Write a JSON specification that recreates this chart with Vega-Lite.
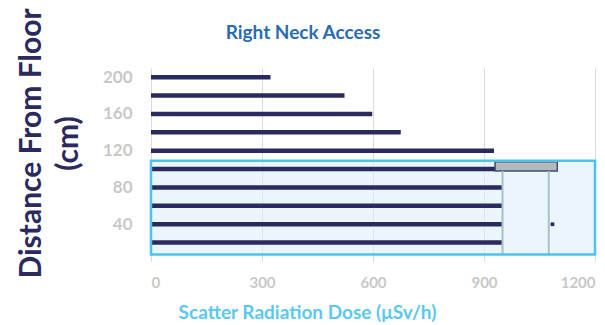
{
  "$schema": "https://vega.github.io/schema/vega-lite/v6.json",
  "width": 444,
  "height": 193,
  "autosize": {"type": "none"},
  "padding": {"left": 151, "top": 68, "right": 10, "bottom": 64},
  "background": "white",
  "config": {"view": {"stroke": null}},
  "title": {"text": "Right Neck Access", "font": "Lato", "fontSize": 19, "fontWeight": "bold", "color": "#2a6cb0", "anchor": "middle", "frame": "group", "dx": -70, "offset": -35},
  "datasets": {
    "bars": [
      {"distance": 20, "start": 0, "dose": 950},
      {"distance": 40, "start": 0, "dose": 950},
      {"distance": 60, "start": 0, "dose": 950},
      {"distance": 80, "start": 0, "dose": 950},
      {"distance": 100, "start": 0, "dose": 930},
      {"distance": 120, "start": 0, "dose": 927},
      {"distance": 140, "start": 0, "dose": 675},
      {"distance": 160, "start": 0, "dose": 598},
      {"distance": 180, "start": 0, "dose": 523},
      {"distance": 200, "start": 0, "dose": 323}
    ],
    "box": [{"x0": 0, "x1": 1200, "y0": 7, "y1": 109}],
    "greybox": [{"x0": 930, "x1": 1098, "y0": 98, "y1": 108}],
    "lines": [{"dose": 950, "y0": 7, "y1": 98}, {"dose": 1075, "y0": 7, "y1": 98}],
    "dot": [{"dose": 1085, "distance": 40}]
  },
  "layer": [
    {
      "data": {"name": "box"},
      "mark": {"type": "rect", "fill": "#dcf0fa", "fillOpacity": 0.6, "strokeWidth": 0},
      "encoding": {
        "x": {"field": "x0", "type": "quantitative", "scale": {"domain": [0, 1200], "nice": false},
          "axis": {"title": "Scatter Radiation Dose (μSv/h)", "values": [0, 300, 600, 900, 1200], "format": "d", "grid": true, "gridColor": "#dadada", "gridWidth": 1, "domain": false, "ticks": false,
            "labelFont": "Lato", "labelFontSize": 15, "labelFontWeight": "bold", "labelColor": "#c8c8c8", "labelPadding": 14,
            "titleFont": "Lato", "titleFontSize": 19, "titleFontWeight": "bold", "titleColor": "#5bc8f0", "titleX": 156, "titleY": 57, "titleAlign": "center", "titleBaseline": "alphabetic"}},
        "x2": {"field": "x1"},
        "y": {"field": "y0", "type": "quantitative", "scale": {"domain": [0, 210], "nice": false},
          "axis": {"title": ["Distance From Floor", "(cm)"], "values": [40, 80, 120, 160, 200], "grid": false, "domain": false, "ticks": false,
            "labelFont": "Lato", "labelFontSize": 17, "labelFontWeight": "bold", "labelColor": "#c8c8c8", "labelPadding": 19,
            "titleFont": "Lato", "titleFontSize": 30, "titleFontWeight": "bold", "titleColor": "#2b2a5e", "titleAngle": -90, "titleX": -111, "titleY": 75, "titleAlign": "center", "titleBaseline": "alphabetic", "titleLineHeight": 37}},
        "y2": {"field": "y1"}
      }
    },
    {
      "data": {"name": "bars"},
      "mark": {"type": "rule", "color": "#2b2a5e", "strokeWidth": 4.5, "strokeCap": "butt"},
      "encoding": {
        "x": {"field": "start", "type": "quantitative"},
        "x2": {"field": "dose"},
        "y": {"field": "distance", "type": "quantitative"}
      }
    },
    {
      "data": {"name": "greybox"},
      "mark": {"type": "rect", "fill": "#b3babf", "stroke": "#3d4f6e", "strokeWidth": 1.5},
      "encoding": {
        "x": {"field": "x0", "type": "quantitative"},
        "x2": {"field": "x1"},
        "y": {"field": "y0", "type": "quantitative"},
        "y2": {"field": "y1"}
      }
    },
    {
      "data": {"name": "lines"},
      "mark": {"type": "rule", "color": "#a9bfc9", "strokeWidth": 2},
      "encoding": {
        "x": {"field": "dose", "type": "quantitative"},
        "y": {"field": "y0", "type": "quantitative"},
        "y2": {"field": "y1"}
      }
    },
    {
      "data": {"name": "dot"},
      "mark": {"type": "square", "color": "#2b2a5e", "size": 14, "opacity": 1},
      "encoding": {
        "x": {"field": "dose", "type": "quantitative"},
        "y": {"field": "distance", "type": "quantitative"}
      }
    },
    {
      "data": {"name": "box"},
      "mark": {"type": "rect", "fill": null, "stroke": "#4cc3ee", "strokeWidth": 2.5},
      "encoding": {
        "x": {"field": "x0", "type": "quantitative"},
        "x2": {"field": "x1"},
        "y": {"field": "y0", "type": "quantitative"},
        "y2": {"field": "y1"}
      }
    }
  ]
}
